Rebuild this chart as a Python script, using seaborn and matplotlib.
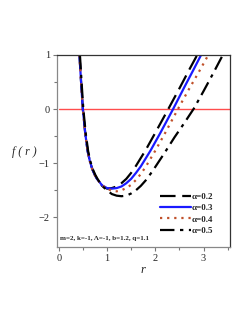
import numpy as np
import pandas as pd
import matplotlib
matplotlib.use("Agg")
import matplotlib.pyplot as plt
import seaborn as sns

# curves f(r), one per alpha
r_02 = [0.43, 0.46, 0.50, 0.55, 0.60, 0.65, 0.70, 0.75, 0.80, 0.90, 1.00, 1.10, 1.20, 1.30, 1.40,
        1.50, 1.60, 1.80, 2.00, 2.27, 2.50, 2.70, 2.87]
f_02 = [1.00, 0.55, 0.00, -0.45, -0.78, -0.98, -1.12, -1.22, -1.30, -1.42, -1.47, -1.46, -1.43,
        -1.37, -1.29, -1.18, -1.05, -0.76, -0.44, 0.00, 0.38, 0.72, 1.00]

r_03 = [0.43, 0.46, 0.50, 0.55, 0.60, 0.65, 0.70, 0.75, 0.80, 0.90, 1.00, 1.10, 1.20, 1.30, 1.40,
        1.50, 1.60, 1.70, 1.90, 2.10, 2.37, 2.60, 2.80, 2.95]
f_03 = [1.00, 0.55, 0.00, -0.45, -0.78, -0.98, -1.12, -1.22, -1.30, -1.41, -1.46, -1.47, -1.46,
        -1.43, -1.37, -1.29, -1.18, -1.06, -0.77, -0.45, 0.00, 0.40, 0.74, 1.00]

r_04 = [0.43, 0.46, 0.50, 0.55, 0.60, 0.65, 0.70, 0.75, 0.80, 0.90, 1.00, 1.10, 1.20, 1.30, 1.40,
        1.50, 1.60, 1.70, 1.80, 2.00, 2.20, 2.47, 2.70, 2.90, 3.10]
f_04 = [1.00, 0.55, 0.00, -0.45, -0.78, -0.98, -1.12, -1.22, -1.30, -1.41, -1.47, -1.51, -1.52,
        -1.50, -1.46, -1.40, -1.31, -1.20, -1.07, -0.77, -0.45, 0.00, 0.37, 0.68, 1.00]

r_05 = [0.44, 0.47, 0.51, 0.56, 0.61, 0.66, 0.71, 0.76, 0.81, 0.90, 1.00, 1.10, 1.20, 1.30, 1.40,
        1.50, 1.60, 1.70, 1.80, 1.90, 2.00, 2.20, 2.40, 2.60, 2.80, 3.00, 3.20, 3.40]
f_05 = [1.00, 0.55, 0.00, -0.45, -0.78, -0.98, -1.12, -1.22, -1.30, -1.42, -1.50, -1.57, -1.60,
        -1.61, -1.60, -1.56, -1.50, -1.42, -1.32, -1.20, -1.07, -0.80, -0.52, -0.26, 0.01, 0.33,
        0.66, 1.00]

labels = ["α=0.2", "α=0.3", "α=0.4", "α=0.5"]
colors = ["black", "#1a1aff", "#c0502a", "black"]
styles = [(0, (7, 3)), "-", (0, (1, 2.2)), (0, (6.5, 2.5, 1.5, 2.5))]
params_text = "m=2, k=-1, Λ=-1, b=1.2, q=1.1"

sns.set_style("ticks")
plt.rcParams["font.family"] = ["Liberation Serif", "DejaVu Serif"]

fig = plt.figure(figsize=(2.49, 3.23), dpi=100)
ax = fig.add_axes([0.228, 0.235, 0.696, 0.595])

ax.plot([0, 3.6], [0, 0], color="#ff4d4d", lw=1.0, zorder=1)

curves = [(r_02, f_02), (r_03, f_03), (r_04, f_04), (r_05, f_05)]
for (rr, ff), lab, col, ls in zip(curves, labels, colors, styles):
    df = pd.DataFrame({"r": rr, "f": ff})
    sns.lineplot(data=df, x="r", y="f", ax=ax, color=col, linestyle=ls, lw=1.6,
                 label=lab, sort=False)

ax.set_xlim(-0.04, 3.55)
ax.set_ylim(-2.55, 1.0)
ax.set_xticks([0, 1, 2, 3])
ax.set_xticks([0.5, 1.5, 2.5, 3.5], minor=True)
ax.set_yticks([1, 0, -1, -2])
ax.set_yticklabels(["1", "0", "−1", "−2"])
ax.set_yticks([0.5, -0.5, -1.5], minor=True)
ax.tick_params(labelsize=7.5, length=3, width=0.8, color="#777777", pad=2)
ax.tick_params(which="minor", length=2, width=0.8, color="#777777")
for s in ["left", "bottom"]:
    ax.spines[s].set_color("#888888")
for s in ["top", "right"]:
    ax.spines[s].set_color("#333333")
for s in ax.spines.values():
    s.set_linewidth(0.9)

ax.set_xlabel("r", fontsize=9, style="italic", labelpad=1)
ax.set_ylabel("f ( r )", fontsize=8.5, style="italic", rotation=0, va="center")
ax.yaxis.set_label_coords(-0.19, 0.495)

ax.text(0.02, 0.035, params_text, transform=ax.transAxes, fontsize=5, fontweight="bold")

leg = ax.legend(loc="lower right", bbox_to_anchor=(0.925, 0.045), frameon=False,
                prop={"weight": "bold", "size": 6.5}, handlelength=3.4, handletextpad=0.15,
                labelspacing=0.32, borderaxespad=0.0)

fig.savefig("out.png", dpi=100)
